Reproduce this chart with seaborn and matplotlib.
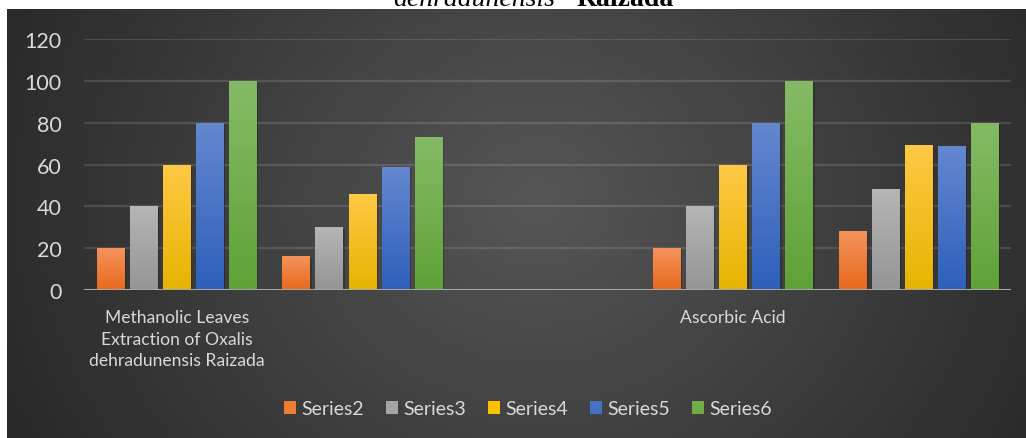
import numpy as np
import pandas as pd
import matplotlib
matplotlib.use("Agg")
import matplotlib.pyplot as plt
import seaborn as sns
import matplotlib.patheffects as pe
from matplotlib.patches import Patch
from matplotlib.colors import to_rgb

# ---------------- data ----------------
categories = ["C1", "C2", "C3", "C4", "C5"]
category_labels = ["Methanolic Leaves\nExtraction of Oxalis\ndehradunensis Raizada",
                   "", "", "Ascorbic Acid", ""]
series_names = ["Series2", "Series3", "Series4", "Series5", "Series6"]
series2 = [20, 16.2, np.nan, 20, 28.1]
series3 = [40, 30.0, np.nan, 40, 48.1]
series4 = [60, 45.7, np.nan, 60, 69.5]
series5 = [80, 59.0, np.nan, 80, 69.0]
series6 = [100, 73.3, np.nan, 100, 80.0]
yticks = [0, 20, 40, 60, 80, 100, 120]

# ---------------- style ----------------
base_colors = ["#ED7D31", "#A5A5A5", "#FFC000", "#4472C4", "#70AD47"]
top_colors = ["#F4935C", "#B5B5B5", "#FFC845", "#6488D0", "#85BA66"]
bot_colors = ["#E8691C", "#959595", "#E6B400", "#2E5FBA", "#5FA236"]
text_color = "#D9D9D9"

rows = []
for name, vals in zip(series_names, [series2, series3, series4, series5, series6]):
    for c, v in zip(categories, vals):
        if not np.isnan(v):
            rows.append({"category": c, "series": name, "value": v})
df = pd.DataFrame(rows)

W, H = 1026, 439
fig = plt.figure(figsize=(W / 100, H / 100), dpi=100, facecolor="white")
plt.rcParams["font.family"] = ["Lato", "DejaVu Sans"]

# background panel with radial gradient
bg = fig.add_axes([7 / W, 0, 1 - 7 / W, (H - 10) / H], zorder=-5)
nx, ny = 400, 200
xx, yy = np.meshgrid(np.linspace(0, 1, nx), np.linspace(0, 1, ny))
r = np.sqrt(((xx - 0.52) / 0.62) ** 2 + ((yy - 0.55) / 1.3) ** 2)
r = np.clip(r, 0, 1)
c_center = np.array([0x56, 0x56, 0x56]) / 255
c_edge = np.array([0x25, 0x25, 0x25]) / 255
img = c_center[None, None, :] * (1 - r[..., None]) + c_edge[None, None, :] * r[..., None]
bg.imshow(img, extent=[0, 1, 0, 1], aspect="auto", origin="lower")
bg.set_axis_off()

ax = fig.add_axes([84 / W, 1 - 291 / H, (1011 - 84) / W, (291 - 40) / H])
ax.patch.set_alpha(0)

sns.barplot(data=df, x="category", y="value", hue="series", order=categories,
            hue_order=series_names, palette=base_colors, width=0.892, gap=0.18,
            ax=ax, legend=False, saturation=1, err_kws={"linewidth": 0})

ax.set_ylim(0, 120)
ax.set_xlim(-0.5, len(categories) - 0.5)
xlim, ylim = ax.get_xlim(), ax.get_ylim()

# gradient fills
color_map = {to_rgb(c): i for i, c in enumerate(base_colors)}
for p in list(ax.patches):
    h = p.get_height()
    if not np.isfinite(h) or h <= 0:
        continue
    fc = tuple(p.get_facecolor()[:3])
    idx = None
    for k, i in color_map.items():
        if np.allclose(k, fc, atol=0.01):
            idx = i
    if idx is None:
        continue
    x0, w = p.get_x(), p.get_width()
    t = np.array(to_rgb(top_colors[idx]))
    b = np.array(to_rgb(bot_colors[idx]))
    s = np.linspace(0, 1, 100)[:, None]
    grad = (b * (1 - s) + t * s)[:, None, :]
    p.set_facecolor(bot_colors[idx])
    p.set_edgecolor("none")
    p.set_zorder(2)
    p.set_path_effects([pe.SimplePatchShadow(offset=(1.5, -1.5), shadow_rgbFace="black", alpha=0.22),
                        pe.Normal()])
    im = ax.imshow(grad, extent=[x0, x0 + w, 0, h], aspect="auto", origin="lower", zorder=2.5)
    im.set_clip_path(p)

ax.set_xlim(xlim)
ax.set_ylim(ylim)

# grid and baseline
for yv in yticks[1:]:
    ax.axhline(yv, color="#FFFFFF", alpha=0.13, lw=1.6, zorder=1)
ax.axhline(0, color="#A6A6A6", lw=2.2, zorder=3)

ax.set_yticks(yticks)
ax.set_yticklabels([str(v) for v in yticks], fontsize=15.5, color=text_color)
ax.set_xticks(range(len(categories)))
ax.set_xticklabels(category_labels, fontsize=12.6, color=text_color, linespacing=1.45)
ax.tick_params(axis="y", length=0, pad=16)
ax.tick_params(axis="x", length=0, pad=13.5)
ax.set_xlabel("")
ax.set_ylabel("")
for sp in ax.spines.values():
    sp.set_visible(False)

# legend
handles = [Patch(facecolor=c, edgecolor="none") for c in base_colors]
leg = fig.legend(handles, series_names, loc="center", bbox_to_anchor=(528 / W, 1 - 410 / H),
                 ncol=5, frameon=False, fontsize=14, handlelength=0.62, handleheight=0.62,
                 handletextpad=0.25, columnspacing=1.15, labelcolor=text_color)

# cut-off title at the top (the reference shows only its lower part)
fig.text(555 / W, 1 - 6 / H, "dehradunensis", fontsize=20, style="italic",
         family="Liberation Serif", ha="right", va="baseline", color="black")
fig.text(577 / W, 1 - 6 / H, "Raizada", fontsize=20, weight="bold",
         family="Liberation Serif", ha="left", va="baseline", color="black")

fig.savefig("out.png", dpi=100, facecolor="white")
